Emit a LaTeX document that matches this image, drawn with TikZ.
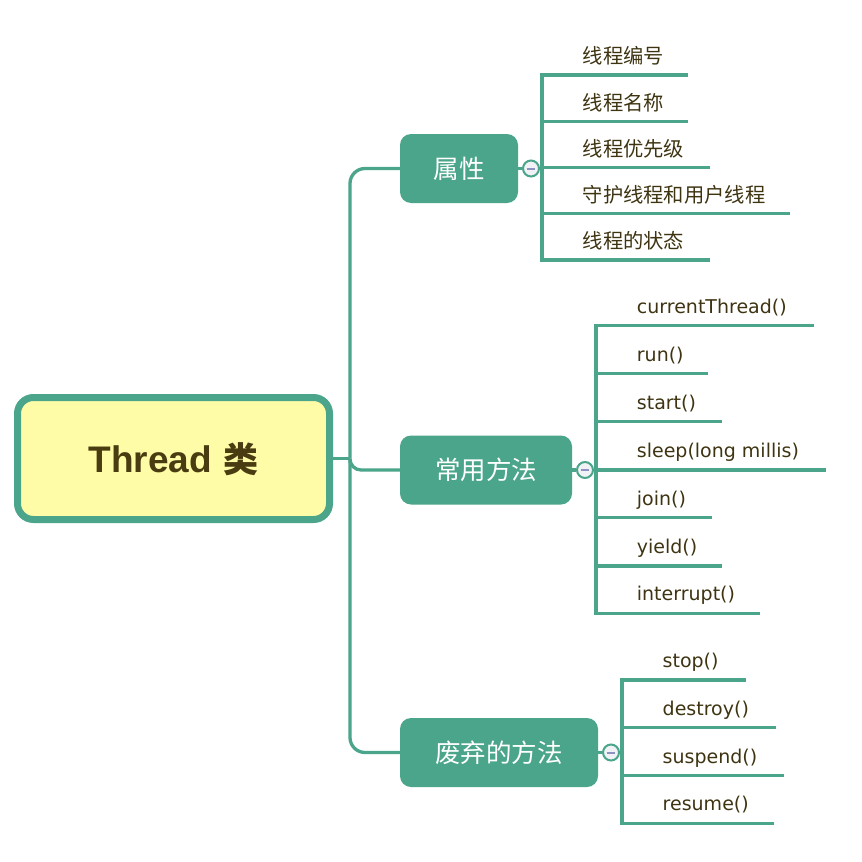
\documentclass[tikz,border=0pt]{standalone}
\usepackage{fontspec}
\setmainfont{DejaVu Sans}
\newfontfamily\cjk{Noto Sans CJK SC}
\newfontfamily\lsans{Liberation Sans}
\usetikzlibrary{calc}
\definecolor{tgreen}{RGB}{74,165,138}
\definecolor{rootfill}{RGB}{255,252,168}
\definecolor{roottext}{RGB}{72,60,16}
\definecolor{itemtext}{RGB}{62,52,18}
\definecolor{togfill}{RGB}{240,242,246}
\definecolor{togminuscol}{RGB}{142,146,192}
\begin{document}
\begin{tikzpicture}[x=1pt,y=-1pt,
  conn/.style={draw=tgreen, line width=3.3pt},
  rootbox/.style={draw=tgreen, line width=7pt, fill=rootfill, rounded corners=16pt,
    minimum width=312pt, minimum height=122pt, inner sep=0pt, text=roottext,
    text height=27pt, text depth=0pt},
  branch/.style={fill=tgreen, rounded corners=11pt, minimum height=69pt, inner sep=0pt,
    text=white, font=\cjk\fontsize{25.5}{25.5}\selectfont, text height=19pt, text depth=0pt},
  toggle/.style={circle, draw=tgreen, line width=2pt, fill=togfill, minimum size=16pt, inner sep=0pt},
  togminus/.style={draw=togminuscol, line width=2pt},
  itemlat/.style={anchor=base west, inner sep=0pt, text=itemtext, font=\fontsize{19}{19}\selectfont},
  itemcjk/.style={anchor=base west, inner sep=0pt, text=itemtext, font=\cjk\fontsize{20.3}{20.3}\selectfont}
]
\useasboundingbox (0,0) rectangle (862,862);

% root
\node[rootbox] (root) at (173.5,458.5)
  {{\lsans\bfseries\fontsize{37}{37}\selectfont Thread}\hspace{11.5pt}{\cjk\bfseries\fontsize{35}{35}\selectfont 类}};

% branch nodes
\node[branch, minimum width=118pt] (b1) at (459,168.5) {属性};
\node[branch, minimum width=172pt] (b2) at (486,470) {常用方法};
\node[branch, minimum width=198pt] (b3) at (499,752.5) {废弃的方法};

% trunk
\coordinate (tr) at (350,458.5);
\draw[conn] (root.east) -- (tr);
\draw[conn, rounded corners=15pt] (b1.west) -| (tr);
\draw[conn, rounded corners=15pt] (tr) |- (b3.west);
\draw[conn, rounded corners=11pt] ([yshift=-4pt]tr) |- (b2.west);

% group 1 items
\foreach \t/\ly/\ex [count=\i] in {线程编号/75/688, 线程名称/121.5/688, 线程优先级/167.5/710, 守护线程和用户线程/213.5/790, 线程的状态/260/710}{
  \coordinate (p\i s) at (542,\ly);
  \coordinate (p\i e) at (\ex,\ly);
  \draw[conn] (p\i s) -- (p\i e);
  \node[itemcjk] (p\i) at (582.5,\ly-11.5) {\t};
}
\draw[conn] (p1e) -- (p1s) -- (p5s) -- (p5e);
\coordinate (v1) at (542,168.5);

% group 2 items
\foreach \t/\ly/\ex [count=\i] in {currentThread()/325.7/814, run()/373.5/708, start()/421.7/722, sleep(long millis)/470/826, join()/517.7/712, yield()/566/722, interrupt()/613.3/760}{
  \coordinate (m\i s) at (596,\ly);
  \coordinate (m\i e) at (\ex,\ly);
  \draw[conn] (m\i s) -- (m\i e);
  \node[itemlat] (m\i) at (636.7,\ly-12.4) {\t};
}
\draw[conn] (m1e) -- (m1s) -- (m7s) -- (m7e);
\coordinate (v2) at (596,470);

% group 3 items
\foreach \t/\ly/\ex [count=\i] in {stop()/680/746, destroy()/727.7/776, suspend()/775.7/784, resume()/823.3/774}{
  \coordinate (d\i s) at (622,\ly);
  \coordinate (d\i e) at (\ex,\ly);
  \draw[conn] (d\i s) -- (d\i e);
  \node[itemlat] (d\i) at (662.5,\ly-12.4) {\t};
}
\draw[conn] (d1e) -- (d1s) -- (d4s) -- (d4e);
\coordinate (v3) at (622,752.5);

% toggles
\node[toggle] (c1) at (531,168.5) {};
\node[toggle] (c2) at (585,470) {};
\node[toggle] (c3) at (611,752.5) {};
\draw[conn] (b1.east) -- (c1);
\draw[conn] (c1) -- (v1);
\draw[conn] (b2.east) -- (c2);
\draw[conn] (c2) -- (v2);
\draw[conn] (b3.east) -- (c3);
\draw[conn] (c3) -- (v3);
\foreach \c in {c1,c2,c3}{
  \draw[togminus] ($(\c)+(-4,0)$) -- ($(\c)+(4,0)$);
}
\end{tikzpicture}
\end{document}
